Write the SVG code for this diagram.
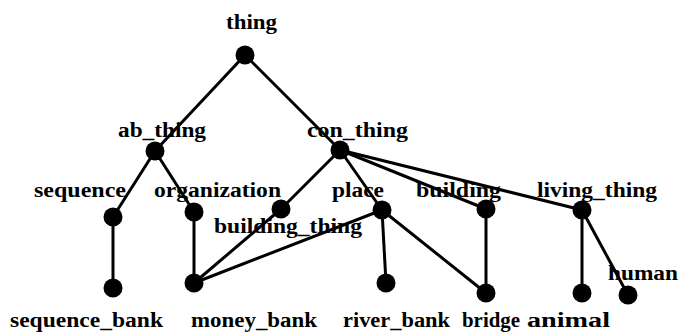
<svg xmlns="http://www.w3.org/2000/svg" width="680" height="334" viewBox="0 0 680 334">
  <style>
    .edge { stroke: #000; stroke-width: 3; fill: none; stroke-linecap: round; }
    .dot { fill: #000; }
    .lbl { font-family: "Liberation Serif", "DejaVu Serif", serif; font-weight: bold; font-size: 20px; fill: #000; }
  </style>
  <rect width="680" height="334" fill="#fff"/>
  <g id="connectors">
    <line class="edge" x1="245" y1="55" x2="155" y2="151"/>
    <line class="edge" x1="245" y1="55" x2="340" y2="150"/>
    <line class="edge" x1="155" y1="151" x2="113" y2="217"/>
    <line class="edge" x1="155" y1="151" x2="194" y2="212"/>
    <line class="edge" x1="340" y1="150" x2="281" y2="209"/>
    <line class="edge" x1="340" y1="150" x2="382" y2="210"/>
    <line class="edge" x1="340" y1="150" x2="486" y2="209"/>
    <line class="edge" x1="340" y1="150" x2="582" y2="210"/>
    <line class="edge" x1="113" y1="217" x2="113" y2="288"/>
    <line class="edge" x1="194" y1="212" x2="194" y2="283"/>
    <line class="edge" x1="281" y1="209" x2="194" y2="283"/>
    <line class="edge" x1="382" y1="210" x2="194" y2="283"/>
    <line class="edge" x1="382" y1="210" x2="386" y2="283"/>
    <line class="edge" x1="382" y1="210" x2="486" y2="293"/>
    <line class="edge" x1="486" y1="209" x2="486" y2="293"/>
    <line class="edge" x1="582" y1="210" x2="582" y2="293"/>
    <line class="edge" x1="582" y1="210" x2="628" y2="295"/>
  </g>
  <g id="thing"><circle class="dot" cx="245" cy="55" r="9.5"/><text class="lbl" x="226" y="29" textLength="51" lengthAdjust="spacingAndGlyphs">thing</text></g>
  <g id="ab_thing"><circle class="dot" cx="155" cy="151" r="9.5"/><text class="lbl" x="118" y="137" textLength="88" lengthAdjust="spacingAndGlyphs">ab_thing</text></g>
  <g id="con_thing"><circle class="dot" cx="340" cy="150" r="9.5"/><text class="lbl" x="307" y="137" textLength="101" lengthAdjust="spacingAndGlyphs">con_thing</text></g>
  <g id="sequence"><circle class="dot" cx="113" cy="217" r="9.5"/><text class="lbl" x="34" y="197" textLength="92" lengthAdjust="spacingAndGlyphs">sequence</text></g>
  <g id="organization"><circle class="dot" cx="194" cy="212" r="9.5"/><text class="lbl" x="154" y="197" textLength="127" lengthAdjust="spacingAndGlyphs">organization</text></g>
  <g id="building_thing"><circle class="dot" cx="281" cy="209" r="9.5"/><text class="lbl" x="214" y="233" textLength="148" lengthAdjust="spacingAndGlyphs">building_thing</text></g>
  <g id="place"><circle class="dot" cx="382" cy="210" r="9.5"/><text class="lbl" x="332" y="197" textLength="52" lengthAdjust="spacingAndGlyphs">place</text></g>
  <g id="building"><circle class="dot" cx="486" cy="209" r="9.5"/><text class="lbl" x="416" y="197" textLength="85" lengthAdjust="spacingAndGlyphs">building</text></g>
  <g id="living_thing"><circle class="dot" cx="582" cy="210" r="9.5"/><text class="lbl" x="537" y="197" textLength="120" lengthAdjust="spacingAndGlyphs">living_thing</text></g>
  <g id="sequence_bank"><circle class="dot" cx="113" cy="288" r="9.5"/><text class="lbl" x="10" y="327" textLength="153" lengthAdjust="spacingAndGlyphs">sequence_bank</text></g>
  <g id="money_bank"><circle class="dot" cx="194" cy="283" r="9.5"/><text class="lbl" x="191" y="327" textLength="126" lengthAdjust="spacingAndGlyphs">money_bank</text></g>
  <g id="river_bank"><circle class="dot" cx="386" cy="283" r="9.5"/><text class="lbl" x="343" y="327" textLength="107" lengthAdjust="spacingAndGlyphs">river_bank</text></g>
  <g id="bridge"><circle class="dot" cx="486" cy="293" r="9.5"/><text class="lbl" x="462" y="327" textLength="58" lengthAdjust="spacingAndGlyphs">bridge</text></g>
  <g id="animal"><circle class="dot" cx="582" cy="293" r="9.5"/><text class="lbl" x="527" y="327" textLength="83" lengthAdjust="spacingAndGlyphs">animal</text></g>
  <g id="human"><circle class="dot" cx="628" cy="295" r="9.5"/><text class="lbl" x="608" y="280" textLength="70" lengthAdjust="spacingAndGlyphs">human</text></g>
</svg>
